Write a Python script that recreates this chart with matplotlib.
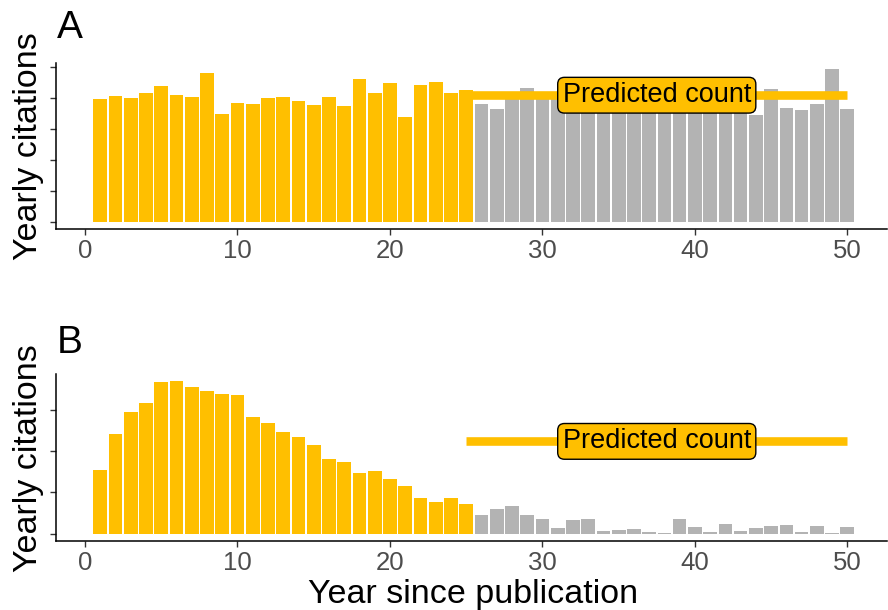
import numpy as np
import matplotlib
matplotlib.use("Agg")
import matplotlib.pyplot as plt

# ----------------------------
# Data
# ----------------------------
years = np.arange(1, 51)
cutoff = 25  # years observed, rest are predicted

citations_a = [3.98, 4.08, 4.01, 4.17, 4.40, 4.11, 4.04, 4.82, 3.49, 3.85,
               3.82, 4.01, 4.04, 3.91, 3.78, 4.04, 3.75, 4.62, 4.17, 4.49,
               3.40, 4.43, 4.53, 4.17, 4.27, 3.82, 3.66, 4.10, 4.33, 4.05,
               4.10, 4.05, 4.20, 3.95, 4.10, 4.00, 4.15, 4.05, 3.90, 4.20,
               4.10, 4.00, 4.05, 3.46, 4.30, 3.69, 3.62, 3.82, 4.95, 3.66]

citations_b = [1.54, 2.41, 2.94, 3.16, 3.67, 3.69, 3.55, 3.45, 3.38, 3.35,
               2.82, 2.68, 2.46, 2.34, 2.15, 1.81, 1.73, 1.47, 1.52, 1.32,
               1.15, 0.86, 0.77, 0.86, 0.72, 0.45, 0.60, 0.67, 0.45, 0.35,
               0.14, 0.33, 0.35, 0.065, 0.09, 0.11, 0.04, 0.016, 0.35, 0.16,
               0.04, 0.23, 0.065, 0.14, 0.19, 0.21, 0.04, 0.19, 0.016, 0.16]

predicted_a = 4.1
predicted_b = 2.23

ORANGE = "#FFBF00"
GREY = "#B3B3B3"
FONT = "Liberation Sans"

W, H = 888, 610


def px_axes(fig, left, top, right, bottom):
    return fig.add_axes([left / W, 1 - bottom / H, (right - left) / W, (bottom - top) / H])


def draw_panel(ax, values, predicted, ylim, yticks):
    values = np.array(values)
    colors = [ORANGE if y <= cutoff else GREY for y in years]
    ax.bar(years, values, width=0.9, color=colors, edgecolor="none", zorder=2)
    ax.plot([cutoff, 50], [predicted, predicted], color=ORANGE, lw=6.2,
            solid_capstyle="butt", zorder=3)
    ax.text(37.5, predicted, "Predicted count", ha="center", va="center",
            fontsize=19.5, family=FONT, zorder=4,
            bbox=dict(boxstyle="round,pad=0.18,rounding_size=0.25",
                      fc=ORANGE, ec="black", lw=1))
    ax.set_xlim(-1.9, 52.6)
    ax.set_ylim(*ylim)
    ax.set_xticks([0, 10, 20, 30, 40, 50])
    ax.set_yticks(yticks)
    ax.set_yticklabels([])
    for s in ["top", "right"]:
        ax.spines[s].set_visible(False)
    for s in ["left", "bottom"]:
        ax.spines[s].set_linewidth(1.1)
    ax.tick_params(axis="both", length=4, width=1, color="#333333",
                   labelcolor="#4D4D4D", labelsize=18.5, pad=3)
    for lab in ax.get_xticklabels():
        lab.set_family(FONT)


fig = plt.figure(figsize=(W / 100, H / 100), dpi=100)

ax_a = px_axes(fig, 56, 62.7, 887, 229.3)
draw_panel(ax_a, citations_a, predicted_a, (-0.23, 5.15), [0, 1, 2, 3, 4, 5])

ax_b = px_axes(fig, 56, 374, 887, 541)
draw_panel(ax_b, citations_b, predicted_b, (-0.18, 3.86), [0, 1, 2, 3])

fig.text(70 / W, 1 - 28 / H, "A", fontsize=28, family=FONT, ha="center", va="center")
fig.text(70 / W, 1 - 343 / H, "B", fontsize=28, family=FONT, ha="center", va="center")
fig.text(29 / W, 1 - 146 / H, "Yearly citations", fontsize=24.5, family=FONT,
         rotation=90, ha="center", va="center")
fig.text(29 / W, 1 - 458 / H, "Yearly citations", fontsize=24.5, family=FONT,
         rotation=90, ha="center", va="center")
fig.text(473 / W, 1 - 594 / H, "Year since publication", fontsize=24.5, family=FONT,
         ha="center", va="center")

fig.savefig("out.png", dpi=100)
